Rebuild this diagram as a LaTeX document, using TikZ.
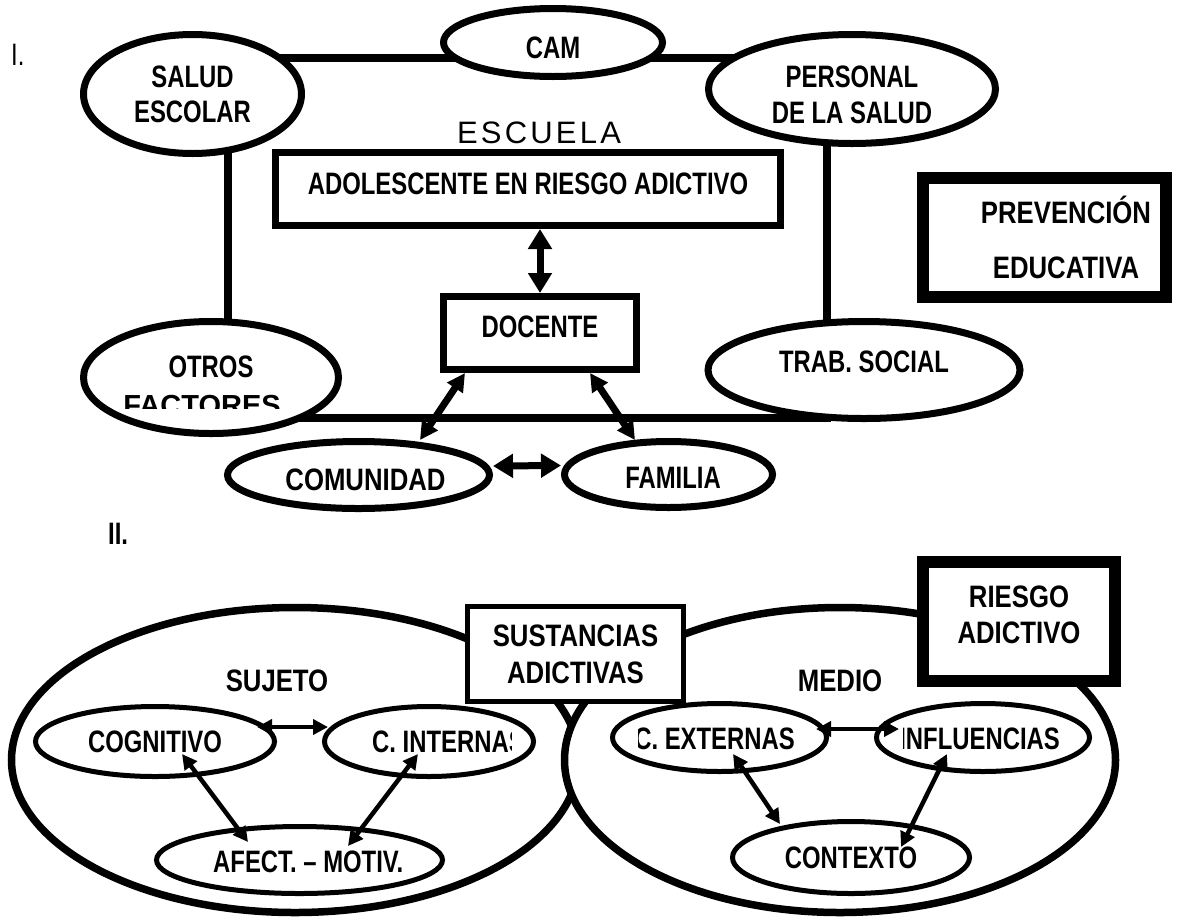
\documentclass[tikz,border=0pt]{standalone}
\usepackage{fontspec}
\setmainfont{Liberation Sans}
\newfontfamily\fa{Liberation Sans}[FakeStretch=0.77]
\newfontfamily\fb{Liberation Sans}[FakeStretch=0.83]
\usetikzlibrary{shapes.geometric,arrows.meta,calc,backgrounds}
\begin{document}
\begin{tikzpicture}[x=1pt,y=-1pt,
 ta/.style={font=\fa\bfseries\fontsize{31}{35}\selectfont, align=center, inner sep=0pt},
 tb/.style={font=\fb\bfseries\fontsize{31}{37}\selectfont, align=center, inner sep=0pt},
 ov/.style={ellipse, draw, fill=white, inner sep=0pt, line width=7pt},
 sov/.style={ellipse, draw, inner sep=0pt, line width=5pt},
 bx/.style={rectangle, draw, fill=white, inner sep=0pt, line width=7pt},
 frame/.style={line width=8pt},
 arrI/.style={line width=7pt, {Triangle[width=23pt,length=20pt]}-{Triangle[width=23pt,length=20pt]}},
 arrIb/.style={line width=7pt, {Triangle[width=18pt,length=18pt]}-{Triangle[width=18pt,length=18pt]}},
 arrII/.style={line width=4.5pt, {Triangle[width=15pt,length=15pt]}-{Triangle[width=15pt,length=15pt]}},
]
\useasboundingbox (0,0) rectangle (1177,919);

% ---------- Section I ----------
\node[ov, ta, minimum width=218pt, minimum height=119pt] (salud) at (192.5,94) {SALUD\\ESCOLAR};
\node[ov, ta, minimum width=219pt, minimum height=68pt, text height=31.3pt] (cam) at (553,42.5) {CAM};
\node[ov, ta, font=\fa\bfseries\fontsize{31}{36}\selectfont, minimum width=287pt, minimum height=109pt, text height=69.3pt] (pers) at (852,89) {PERSONAL\\DE LA SALUD};
\node[ov, minimum width=255pt, minimum height=112pt] (otros) at (211,377.5) {};
\node[ta, anchor=base] (otrostxt) at (211,377) {OTROS};
\begin{scope}
\clip (60,380) rectangle (360,408);
\node[font=\bfseries\fontsize{29}{29}\selectfont, inner sep=0pt, anchor=base] (factxt) at (202,415) {FACTORES};
\end{scope}
\node[ov, ta, minimum width=312pt, minimum height=97pt, text depth=16pt] (trab) at (864,370) {TRAB. SOCIAL};
\node[ov, tb, minimum width=262pt, minimum height=67pt, text height=31.3pt] (com) at (358.5,475) {\hspace*{14pt}COMUNIDAD};
\node[ov, ta, minimum width=208pt, minimum height=66pt, text height=28.3pt] (fam) at (668.5,474.5) {\hspace*{9pt}FAMILIA};
\node[bx, ta, minimum width=505pt, minimum height=73pt, text depth=10pt] (adol) at (528,189) {ADOLESCENTE EN RIESGO ADICTIVO};
\node[bx, ta, minimum width=193pt, minimum height=73pt, text depth=12pt] (doc) at (540,333) {DOCENTE};
\node[bx, line width=12pt, minimum width=243pt, minimum height=119pt] (prev) at (1044.5,237.5) {};
\node[tb, anchor=base] (prev1) at (1066,223) {PREVENCIÓN};
\node[tb, anchor=base] (prev2) at (1066,278) {EDUCATIVA};
\node[font=\fa\fontsize{31}{31}\selectfont, inner sep=0pt, anchor=base west] (n1) at (11,65) {I.};
\node[font=\fontsize{31}{31}\selectfont, inner sep=0pt, anchor=base] (esc) at (539,143) {E\kern3.2pt S\kern3.2pt C\kern3.2pt U\kern3.2pt E\kern3.2pt L\kern3.2pt A};
\node[font=\fa\bfseries\fontsize{31}{31}\selectfont, inner sep=0pt, anchor=base west] (n2) at (108,544) {II.};

\coordinate (ytop) at (0,57.5);
\coordinate (ybot) at (0,417.5);
\begin{pgfonlayer}{background}
\fill[white] (0,0) rectangle (1177,919);
\draw[frame] (salud.center |- ytop) -- (pers.center |- ytop);
\draw[frame] ($(salud.center)+(35.5,0)$) -- ($(otros.center)+(17,0)$);
\draw[frame] ($(pers.center)+(-25,0)$) -- ($(trab.center)+(-37,0)$);
\draw[frame] (otros.center |- ybot) -- ($(trab.center)+(-33,47.5)$);
\end{pgfonlayer}

\draw[arrI] (doc.north |- adol.south) -- (doc.north);
\draw[arrIb] ($(doc.south west)+(25,0)$) -- ($(com.center)+(61.5,-35)$);
\draw[arrIb] ($(doc.south east)+(-50,0)$) -- ($(fam.center)+(-33.5,-34.5)$);
\draw[arrI] ($(com.east)+(0,-9)$) -- ($(fam.west)+(0,-9)$);

% ---------- Section II ----------
\node[ov, line width=7.5pt, minimum width=567pt, minimum height=305pt] (suj) at (295,760) {};
\node[ov, line width=7.5pt, minimum width=551pt, minimum height=305pt] (med) at (840,760) {};
\node[bx, tb, line width=5pt, minimum width=216pt, minimum height=95pt] (sust) at (575.5,654) {SUSTANCIAS\\ADICTIVAS};
\node[bx, tb, font=\fb\bfseries\fontsize{31}{36}\selectfont, line width=12pt, minimum width=192pt, minimum height=119pt, text depth=13pt] (ries) at (1019,621.5) {RIESGO\\ADICTIVO};
\node[tb, anchor=base] (sujtxt) at (277,691) {SUJETO};
\node[tb, anchor=base] (medtxt) at (840,691) {MEDIO};
\node[sov, ta, minimum width=239pt, minimum height=70pt] (cog) at (155,741.5) {COGNITIVO};
\node[sov, minimum width=209pt, minimum height=70pt] (cint) at (429,741.5) {};
\node[sov, minimum width=286pt, minimum height=67pt] (aff) at (299.5,860) {};
\node[sov, minimum width=214pt, minimum height=68pt] (cext) at (719.5,737.5) {};
\node[sov, minimum width=213pt, minimum height=68pt] (infl) at (983,737.5) {};
\node[sov, ta, minimum width=237pt, minimum height=72pt] (ctx) at (851,857.5) {CONTEXTO};

\begin{scope}
\clip (330,720) rectangle (511,760);
\node[ta, anchor=base west] (cinttxt) at (372,752) {C. INTERNAS};
\end{scope}
\begin{scope}
\clip (170,840) rectangle (404,880);
\node[ta, anchor=base west] (afftxt) at (213,872) {AFECT. – MOTIV.};
\end{scope}
\begin{scope}
\clip (638,720) rectangle (820,760);
\node[ta, anchor=base east] (cexttxt) at (795,749) {C. EXTERNAS};
\end{scope}
\begin{scope}
\clip (903,720) rectangle (1080,760);
\node[ta, anchor=base east] (infltxt) at (1060,749) {INFLUENCIAS};
\end{scope}

\draw[arrII] ($(cog.center)+(102,-14.5)$) -- ($(cint.center)+(-101,-14.5)$);
\draw[arrII] ($(cog.center)+(27,12.5)$) -- ($(aff.center)+(-51.5,-18)$);
\draw[arrII] ($(cint.center)+(-11,12.5)$) -- ($(aff.center)+(48.5,-14)$);
\draw[arrII] ($(cext.center)+(96.5,-8.5)$) -- ($(infl.center)+(-84,-8.5)$);
\draw[arrII] ($(cext.center)+(13.5,16.5)$) -- ($(ctx.center)+(-71,-33.5)$);
\draw[arrII] ($(infl.center)+(-36,16.5)$) -- ($(ctx.center)+(50,-10.5)$);
\end{tikzpicture}
\end{document}
